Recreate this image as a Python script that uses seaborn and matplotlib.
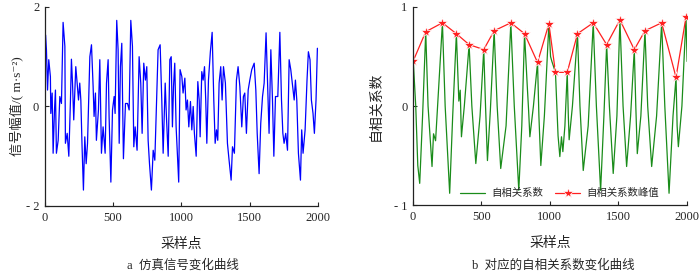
import matplotlib
matplotlib.use('Agg')
import matplotlib.pyplot as plt
import seaborn as sns

# simulated signal (vertices)
sig_x = [0, 5, 12, 20, 29, 41, 44, 54, 61, 71, 78, 85, 98, 110, 122, 134, 147, 151, 164, 176,
         188, 195, 203, 212, 227, 237, 247, 256, 264, 273, 283, 293, 303, 313, 320, 330, 342, 354,
         361, 371, 378, 393, 403, 415, 427, 442, 452, 464, 471, 484, 496, 508, 515, 527, 537, 545,
         554, 564, 576, 591, 606, 618, 630, 642, 652, 662, 676, 691, 703, 713, 725, 737, 747, 757,
         767, 781, 794, 806, 818, 830, 845, 857, 867, 882, 891, 904, 916, 926, 935, 943, 952, 962,
         981, 991, 1004, 1013, 1026, 1035, 1045, 1055, 1067, 1077, 1087, 1096, 1109, 1121, 1131,
         1138, 1150, 1160, 1170, 1179, 1187, 1199, 1213, 1226, 1238, 1248, 1258, 1267, 1277, 1289,
         1299, 1309, 1323, 1338, 1350, 1365, 1375, 1389, 1404, 1416, 1429, 1443, 1455, 1465, 1477,
         1490, 1502, 1516, 1534, 1546, 1556, 1570, 1582, 1595, 1607, 1621, 1633, 1643, 1656, 1668,
         1678, 1690, 1707, 1722, 1734, 1744, 1753, 1765, 1778, 1790, 1802, 1816, 1827, 1836, 1846,
         1858, 1873, 1882, 1892, 1907, 1921, 1931, 1943, 1953, 1965, 1975, 1987, 1997]
sig_y = [0.0, 1.44, 1.14, 0.33, 0.94, 0.6, -0.14, 0.27, -0.94, -0.07, 0.33, -0.94, -0.68, 0.2,
         0.06, 1.69, 1.21, -0.74, -0.54, -1.0, 0.13, 0.95, 0.47, -0.27, 0.8, 0.47, 0.13, 0.47,
         0.13, -0.81, -1.68, -0.61, -1.15, -0.74, 0.0, 1.0, 1.24, 0.4, -0.2, 0.27, -0.68, -0.07,
         0.94, -0.94, -0.41, -0.94, 0.47, 0.94, -0.2, -1.52, -0.07, 0.2, -0.14, 1.73, 1.14, -0.74,
         0.8, 1.27, -1.05, 0.06, 0.06, -0.07, 1.73, 1.21, -0.81, -0.41, -0.88, 1.0, 0.47, -0.54,
         0.87, 0.53, 0.8, -0.68, -1.15, -1.68, -0.88, -1.08, 0.0, 1.14, 1.24, 0.13, -0.94, 0.47,
         -0.2, -1.0, 0.94, 1.0, -0.41, 0.4, 0.87, -0.41, -1.52, 0.74, 0.6, 0.27, 0.57, -0.07, 0.13,
         -0.41, 0.1, -0.47, 0.0, -0.54, -1.0, 0.5, 0.13, -0.61, 0.7, 0.53, 0.8, 0.13, -0.74, 0.53,
         1.1, 1.49, 0.13, -0.74, -0.47, -0.68, 0.47, 0.8, 0.13, 0.8, 0.47, -0.74, -1.08, -1.48,
         -0.81, -0.94, 0.53, 0.8, 0.4, -0.41, 0.2, 0.27, -0.54, 0.33, 0.53, 0.74, 0.87, 0.33, -0.54,
         -1.35, -0.34, 0.2, 0.47, 1.48, 0.4, -0.54, 1.14, 0.13, -1.0, 0.2, 0.2, 1.49, 0.13, -0.54,
         -0.74, -0.54, -0.88, 0.94, 0.74, 0.4, 0.13, 0.53, 0.13, -0.94, -1.48, -0.47, -0.94, -0.47,
         0.53, 1.1, 0.94, 0.13, -0.14, -0.54, 0.13, 1.17]

# autocorrelation curve (vertices)
ac_x = [0, 2, 20, 35, 49, 70, 93, 110, 139, 150, 165, 215, 235, 268, 290, 317, 335, 345, 354,
        375, 410, 430, 459, 490, 517, 530, 544, 565, 593, 615, 641, 680, 715, 740, 773, 795, 815,
        835, 845, 854, 880, 910, 920, 934, 960, 993, 1005, 1015, 1041, 1060, 1073, 1085, 1095,
        1110, 1127, 1135, 1141, 1165, 1202, 1220, 1244, 1280, 1317, 1340, 1371, 1395, 1415, 1435,
        1463, 1490, 1512, 1535, 1561, 1590, 1617, 1628, 1639, 1665, 1695, 1715, 1744, 1780, 1817,
        1840, 1871, 1900, 1922, 1930, 1939, 1965, 1995, 2003]
ac_y = [0.72, 0.45, 0.0, -0.6, -0.78, -0.1, 0.75, 0.0, -0.61, -0.28, -0.35, 0.84, 0.0, -0.88,
        -0.1, 0.73, 0.05, 0.16, -0.31, 0.0, 0.62, 0.0, -0.58, -0.1, 0.57, 0.0, -0.55, -0.05, 0.76,
        0.0, -0.63, -0.2, 0.84, 0.0, -0.85, -0.2, 0.73, 0.2, -0.05, -0.31, 0.0, 0.44, -0.1, -0.6,
        -0.1, 0.83, 0.5, 0.45, 0.34, -0.3, -0.51, -0.31, -0.46, -0.2, 0.34, -0.1, -0.34, 0.0, 0.73,
        0.0, -0.65, -0.2, 0.84, 0.0, -0.85, -0.1, 0.62, 0.0, -0.68, -0.1, 0.87, 0.0, -0.61, -0.1,
        0.57, 0.0, -0.48, -0.1, 0.76, 0.0, -0.61, -0.1, 0.84, 0.0, -0.88, -0.1, 0.29, -0.2, -0.41,
        0.0, 0.9, 0.45]

# peaks of the autocorrelation
pk_x = [0, 93, 215, 317, 410, 517, 593, 715, 815, 910, 993, 1041, 1127, 1202, 1317, 1415, 1512,
        1617, 1695, 1817, 1922, 1995]
pk_y = [0.45, 0.75, 0.84, 0.73, 0.62, 0.57, 0.76, 0.84, 0.73, 0.44, 0.83, 0.34, 0.34, 0.73,
        0.84, 0.62, 0.87, 0.57, 0.76, 0.84, 0.29, 0.9]

x_ticks = [0, 500, 1000, 1500, 2000]

sns.set_style('ticks')
plt.rcParams['font.family'] = ['Liberation Serif', 'Noto Sans CJK SC', 'DejaVu Sans']
plt.rcParams['xtick.direction'] = 'in'
plt.rcParams['ytick.direction'] = 'in'

fig = plt.figure(figsize=(7, 2.78), dpi=100)
ax1 = fig.add_axes([0.064, 0.259, 0.39, 0.716])
ax2 = fig.add_axes([0.59, 0.262, 0.391, 0.713])

fs = 9
sns.lineplot(x=sig_x, y=sig_y, ax=ax1, color='#0000ff', linewidth=0.9)
ax1.set_xlim(0, 2000)
ax1.set_ylim(-2, 2)
ax1.set_xticks(x_ticks)
ax1.set_xticklabels([str(t) for t in x_ticks], fontsize=fs)
ax1.set_yticks([-2, 0, 2])
ax1.set_yticklabels(['- 2', '0', '2'], fontsize=fs)
ax1.set_xlabel('采样点', fontsize=fs + 1, labelpad=10)
ax1.set_ylabel('信号幅值/( m·s⁻²)', fontsize=fs + 0.5, labelpad=2)

sns.lineplot(x=ac_x, y=ac_y, ax=ax2, color='#1a8c1a', linewidth=0.9, label='自相关系数')
sns.lineplot(x=pk_x, y=pk_y, ax=ax2, color='#ff2020', linewidth=0.9, marker='*',
             markersize=8, markeredgewidth=0.5, label='自相关系数峰值')
ax2.set_xlim(0, 2000)
ax2.set_ylim(-1, 1)
ax2.set_xticks(x_ticks)
ax2.set_xticklabels([str(t) for t in x_ticks], fontsize=fs)
ax2.set_yticks([-1, 0, 1])
ax2.set_yticklabels(['- 1', '0', '1'], fontsize=fs)
ax2.set_xlabel('采样点', fontsize=fs + 1, labelpad=10)
ax2.set_ylabel('自相关系数', fontsize=fs + 1, labelpad=8)
ax2.legend(loc='center', ncol=2, frameon=False, fontsize=7.5,
           bbox_to_anchor=(0.535, 0.06), handlelength=2.4, handletextpad=0.6,
           columnspacing=1.2)

for ax in (ax1, ax2):
    sns.despine(ax=ax)
    ax.tick_params(length=3, width=0.8, pad=4)
    for s in ('left', 'bottom'):
        ax.spines[s].set_linewidth(0.9)
        ax.spines[s].set_color('#222222')

fig.text(0.262, 0.035, 'a  仿真信号变化曲线', ha='center', fontsize=fs)
fig.text(0.79, 0.035, 'b  对应的自相关系数变化曲线', ha='center', fontsize=fs)

fig.savefig('out.png', dpi=100)
